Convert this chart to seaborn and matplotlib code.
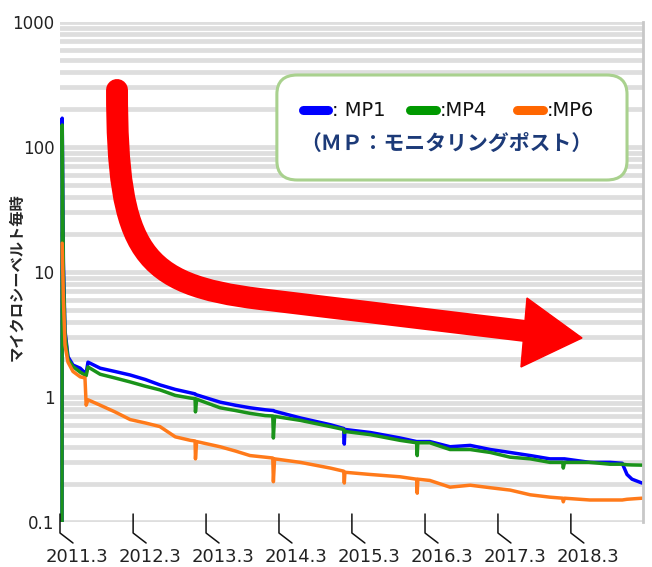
import matplotlib
matplotlib.use("Agg")
import matplotlib.pyplot as plt
import matplotlib.dates as mdates
from matplotlib.path import Path
from matplotlib.patches import PathPatch, Polygon, FancyBboxPatch
from matplotlib.lines import Line2D
import numpy as np
import pandas as pd
import seaborn as sns

# 読み取り値（空間線量率 μSv/h）
dates = ["2011-03-11", "2011-03-12", "2011-03-18", "2011-03-26", "2011-04-10",
         "2011-05-05", "2011-06-10", "2011-07-04", "2011-07-10", "2011-07-19",
         "2011-09-18", "2011-12-01", "2012-02-15", "2012-05-01", "2012-07-13",
         "2012-09-28", "2012-12-13", "2013-01-05", "2013-01-07", "2013-01-13",
         "2013-05-10", "2013-07-25", "2013-10-07", "2013-12-22", "2014-01-29",
         "2014-02-01", "2014-02-07", "2014-06-16", "2014-11-13", "2015-01-19",
         "2015-01-22", "2015-01-25", "2015-06-01", "2015-10-28", "2016-01-19",
         "2016-01-22", "2016-01-25", "2016-03-25", "2016-07-04", "2016-10-13",
         "2017-01-22", "2017-05-01", "2017-08-10", "2017-11-16", "2018-01-19",
         "2018-01-22", "2018-01-28", "2018-06-04", "2018-09-13", "2018-11-13",
         "2018-12-07", "2019-01-01", "2019-02-20"]
mp1 = [0.04, 170, 12, 3.4, 2.1, 1.8, 1.7, 1.56, 1.55, 1.9,
       1.7, 1.6, 1.5, 1.38, 1.25, 1.15, 1.08, 1.06, 1.05, 1.04,
       0.91, 0.86, 0.82, 0.79, 0.78, 0.78, 0.77, 0.68, 0.60, 0.56,
       0.42, 0.55, 0.52, 0.47, 0.44, 0.44, 0.44, 0.44, 0.40, 0.41,
       0.38, 0.36, 0.34, 0.32, 0.32, 0.32, 0.32, 0.30, 0.30, 0.295,
       0.24, 0.22, 0.205]
mp4 = [0.04, 150, 10, 3.2, 2.0, 1.75, 1.58, 1.5, 1.48, 1.74,
       1.52, 1.42, 1.32, 1.22, 1.14, 1.03, 0.98, 0.97, 0.76, 0.96,
       0.82, 0.78, 0.74, 0.71, 0.705, 0.47, 0.70, 0.65, 0.58, 0.55,
       0.52, 0.53, 0.50, 0.45, 0.43, 0.34, 0.43, 0.43, 0.38, 0.38,
       0.36, 0.33, 0.32, 0.30, 0.30, 0.27, 0.30, 0.30, 0.29, 0.29,
       0.287, 0.286, 0.285]
mp6 = [np.nan, 17, 6, 2.6, 1.9, 1.6, 1.45, 1.42, 0.86, 0.95,
       0.86, 0.76, 0.66, 0.62, 0.58, 0.48, 0.45, 0.445, 0.32, 0.44,
       0.40, 0.37, 0.34, 0.33, 0.325, 0.21, 0.32, 0.30, 0.27, 0.255,
       0.205, 0.25, 0.24, 0.23, 0.22, 0.17, 0.22, 0.215, 0.19, 0.197,
       0.188, 0.18, 0.165, 0.158, 0.155, 0.145, 0.155, 0.15, 0.15, 0.15,
       0.152, 0.153, 0.155]

series = ["MP1", "MP4", "MP6"]
colors = ["#0000ff", "#1a931a", "#ff7a1a"]
legend_colors = ["#0000ff", "#009900", "#ff6600"]
ytick_vals = [0.1, 1, 10, 100, 1000]

df = pd.DataFrame({"date": pd.to_datetime(dates), "MP1": mp1, "MP4": mp4, "MP6": mp6})
long = df.melt(id_vars="date", var_name="point", value_name="dose").dropna()

sns.set_style("white")
plt.rcParams["font.family"] = ["DejaVu Sans", "Noto Sans CJK JP"]

fig = plt.figure(figsize=(6.52, 5.67), dpi=100)
ax = fig.add_axes([60 / 652, 45 / 567, 583 / 652, 500 / 567])

sns.lineplot(data=long, x="date", y="dose", hue="point", hue_order=series,
             palette=colors, estimator=None, linewidth=2.5, legend=False, ax=ax)

ax.set_yscale("log")
ax.set_ylim(0.1, 1000)
ax.set_xlim(pd.Timestamp("2011-03-01"), pd.Timestamp("2019-02-25"))
ax.set_xlabel("")
ax.set_ylabel("")

# 横のグリッド（ぼかした灰色線）
ax.yaxis.grid(True, which="both", color="#dedede", linewidth=3.4, zorder=0)
ax.set_axisbelow(True)
ax.set_yticks(ytick_vals)
ax.set_yticklabels([f"{v:g}" for v in ytick_vals], fontsize=12, color="#222222")
ax.tick_params(axis="y", which="both", length=0, pad=4)
fig.canvas.draw()
for v in list(ax.yaxis.get_minorticklocs()) + ytick_vals:
    if 0.1 <= v <= 1000:
        ax.axhline(v, color="#c6c6c6", linewidth=0.8, zorder=0.5)

for s in ["top", "left", "bottom"]:
    ax.spines[s].set_visible(False)
ax.spines["right"].set_color("#c8c8c8")
ax.spines["right"].set_linewidth(2)

# x軸：2か月ごとの小目盛り、3月に年ラベル
ax.xaxis.set_major_locator(mdates.MonthLocator(bymonth=3))
ax.xaxis.set_minor_locator(mdates.MonthLocator(bymonth=(1, 3, 5, 7, 9, 11)))
ax.xaxis.set_major_formatter(plt.NullFormatter())
ax.tick_params(axis="x", which="major", length=0)
ax.tick_params(axis="x", which="minor", direction="in", length=5.5, width=0.9, color="#9a9a9a")

xtr = ax.get_xaxis_transform()
for t in ax.get_xticks():
    d = mdates.num2date(t).replace(tzinfo=None)
    x0 = mdates.date2num(d)
    x1 = mdates.date2num(d + pd.Timedelta(days=65))
    ax.add_line(Line2D([x0, x0, x1], [0.016, -0.022, -0.042], transform=xtr,
                       color="#111111", linewidth=1.1, clip_on=False))
    ax.text(mdates.date2num(d + pd.Timedelta(days=85)), -0.07, f"{d.year}.3",
            transform=xtr, ha="center", va="center", fontsize=13, color="#222222")

# 縦軸の単位
fig.text(16 / 652, 290 / 567, "マイクロシーベルト毎時", rotation=90, ha="center", va="center",
         fontsize=11, fontweight="bold", family=["Noto Sans CJK JP", "DejaVu Sans"])

# 赤い矢印
verts = [(0.0978, 0.864), (0.0978, 0.54), (0.14, 0.475), (0.343, 0.446), (0.7976, 0.382)]
codes = [Path.MOVETO, Path.CURVE4, Path.CURVE4, Path.CURVE4, Path.LINETO]
arrow = PathPatch(Path(verts, codes), transform=ax.transAxes, fill=False,
                  edgecolor="#ff0000", linewidth=15.8, capstyle="round", joinstyle="round",
                  zorder=5)
ax.add_patch(arrow)
ax.add_patch(Polygon([(0.801, 0.448), (0.7907, 0.31), (0.8954, 0.368)], closed=True,
                     transform=ax.transAxes, facecolor="#ff0000", edgecolor="#ff0000",
                     linewidth=1, zorder=5, clip_on=False))

# 凡例ボックス
box = FancyBboxPatch((0.372, 0.684), 0.6006, 0.21, boxstyle="round,pad=0,rounding_size=0.035",
                     transform=ax.transAxes, facecolor="white", edgecolor="#a9d18e",
                     linewidth=2.2, zorder=6, mutation_aspect=1.1)
ax.add_patch(box)
pill_x = [(0.416, 0.460), (0.601, 0.645), (0.784, 0.828)]
text_x = [0.466, 0.652, 0.835]
labels = [": MP1", ":MP4", ":MP6"]
for (a, b), tx, lab, c in zip(pill_x, text_x, labels, legend_colors):
    ax.add_line(Line2D([a, b], [0.824, 0.824], transform=ax.transAxes, color=c,
                       linewidth=6.5, solid_capstyle="round", zorder=7))
    ax.text(tx, 0.824, lab, transform=ax.transAxes, ha="left", va="center",
            fontsize=14, color="#111111", zorder=7)
ax.text(0.662, 0.757, "（ＭＰ：モニタリングポスト）", transform=ax.transAxes,
        ha="center", va="center", fontsize=15, fontweight="bold", color="#1c3a78",
        family=["Noto Sans CJK JP", "DejaVu Sans"], zorder=7)

fig.savefig("out.png", dpi=100)
